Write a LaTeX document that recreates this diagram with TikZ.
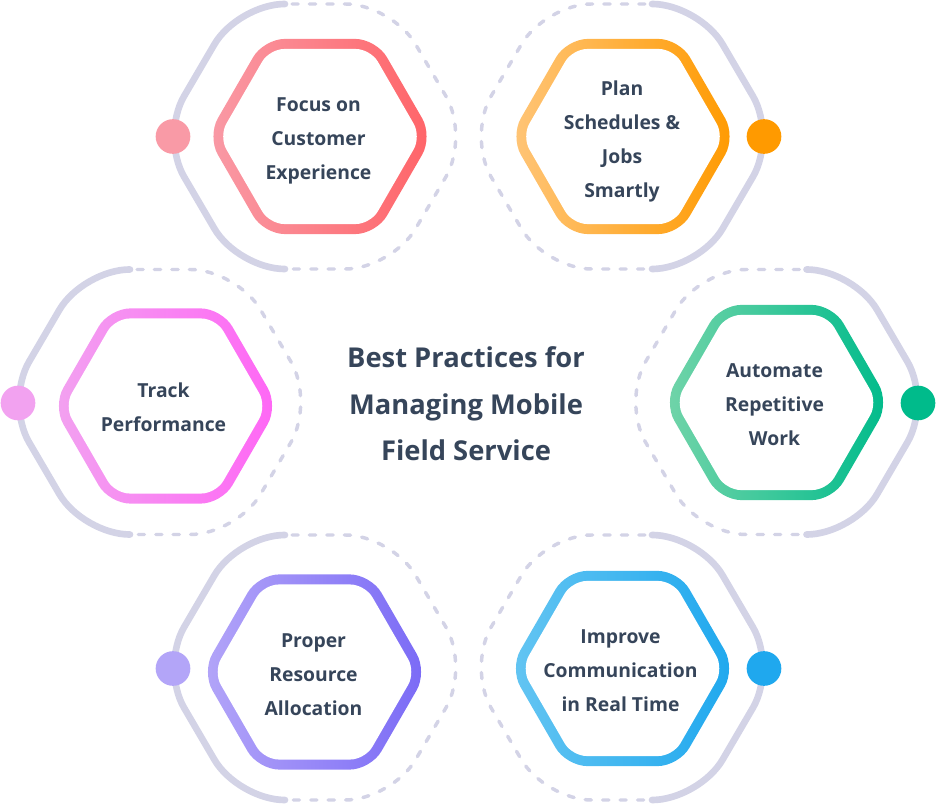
\documentclass[tikz,border=0pt]{standalone}
\usepackage{fontspec}
\setmainfont{Open Sans}
\usetikzlibrary{shapes.geometric}

\definecolor{trackgrey}{HTML}{D3D3E6}
\definecolor{inkblue}{HTML}{36455A}
\definecolor{focusL}{HTML}{F99AA6}
\definecolor{focusR}{HTML}{FF6468}
\definecolor{planL}{HTML}{FFC578}
\definecolor{planR}{HTML}{FF9A00}
\definecolor{trackL}{HTML}{F2A2F0}
\definecolor{trackR}{HTML}{FF66F5}
\definecolor{autoL}{HTML}{72D4A9}
\definecolor{autoR}{HTML}{00BB8B}
\definecolor{resL}{HTML}{B3A5F8}
\definecolor{resR}{HTML}{7A6AF6}
\definecolor{commL}{HTML}{64C5F2}
\definecolor{commR}{HTML}{1FA8EE}

% Draw the solid and the dashed half of one outer track
\newcommand{\outertrack}[3]{
  \begin{scope}[shift={(#1,#2)}, xscale=#3]
    \draw[solid track] (-30,-132.5) -- (-77,-132.5) -- (-154.5,0) -- (-77,132.5) -- (-30,132.5);
    \draw[dashed track] (-23,-132.5) -- (77,-132.5) -- (154.5,0) -- (77,132.5) -- (-23,132.5);
  \end{scope}
}

\begin{document}
\begin{tikzpicture}[x=.75pt, y=-.75pt]

  % Setup the styles
  \tikzset{
    solid track/.style={draw=trackgrey, line width=5pt, line cap=round, rounded corners=35pt},
    dashed track/.style={draw=trackgrey, line width=2.6pt, line cap=round, dash pattern=on 4.6pt off 8.5pt, rounded corners=35pt},
    ring style/.style={regular polygon, regular polygon sides=6, minimum size=169pt, inner sep=0pt, outer sep=0pt, rounded corners=15.7pt},
    hole style/.style={regular polygon, regular polygon sides=6, minimum size=151.6pt, inner sep=0pt, outer sep=0pt, rounded corners=11pt, fill=white},
    dot style/.style={circle, minimum size=26pt, inner sep=0pt},
    label style/.style={align=center, text=inkblue, font=\fontsize{14.5}{25.5}\selectfont\bfseries},
    title style/.style={align=center, text=inkblue, font=\fontsize{20.5}{34.9}\selectfont\bfseries}
  }

  \useasboundingbox (0,0) rectangle (936,805);

  % Draw the outer tracks
  \outertrack{315}{136.5}{1}
  \outertrack{622}{136.5}{-1}
  \outertrack{160}{402}{1}
  \outertrack{776.5}{402}{-1}
  \outertrack{315}{667.5}{1}
  \outertrack{622}{667.5}{-1}

  % Draw the hexagons
  \node[ring style, left color=focusL, right color=focusR] at (320,136.5) (FocusRing) {};
  \node[ring style, left color=planL, right color=planR] at (623,136.5) (PlanRing) {};
  \node[ring style, left color=trackL, right color=trackR] at (165.5,406) (TrackRing) {};
  \node[ring style, left color=autoL, right color=autoR] at (776.5,402.5) (AutomateRing) {};
  \node[ring style, left color=resL, right color=resR] at (314.5,672) (ResourceRing) {};
  \node[ring style, left color=commL, right color=commR] at (622.5,668.5) (CommRing) {};

  \node[hole style] at (FocusRing) (FocusHole) {};
  \node[hole style] at (PlanRing) (PlanHole) {};
  \node[hole style] at (TrackRing) (TrackHole) {};
  \node[hole style] at (AutomateRing) (AutomateHole) {};
  \node[hole style] at (ResourceRing) (ResourceHole) {};
  \node[hole style] at (CommRing) (CommHole) {};

  % Draw the dots
  \node[dot style, fill=focusL] at (173,136.5) (FocusDot) {};
  \node[dot style, fill=planR] at (764,136.5) (PlanDot) {};
  \node[dot style, fill=trackL] at (18,403) (TrackDot) {};
  \node[dot style, fill=autoR] at (918,403) (AutomateDot) {};
  \node[dot style, fill=resL] at (173,668.5) (ResourceDot) {};
  \node[dot style, fill=commR] at (764,668.5) (CommDot) {};

  % Write the labels
  \node[label style] at (318.5,141) (Focus) {Focus on\\Customer\\Experience};
  \node[label style] at (622,141) (Plan) {Plan\\Schedules \&\\Jobs\\Smartly};
  \node[label style] at (163.5,407) (Track) {Track\\Performance};
  \node[label style] at (774.5,405) (Automate) {Automate\\Repetitive\\Work};
  \node[label style] at (313.5,675) (Resource) {Proper\\Resource\\Allocation};
  \node[label style] at (620.5,671) (Comm) {Improve\\Communication\\in Real Time};
  \node[title style] at (466,404) (Title) {Best Practices for\\Managing Mobile\\Field Service};

\end{tikzpicture}
\end{document}
